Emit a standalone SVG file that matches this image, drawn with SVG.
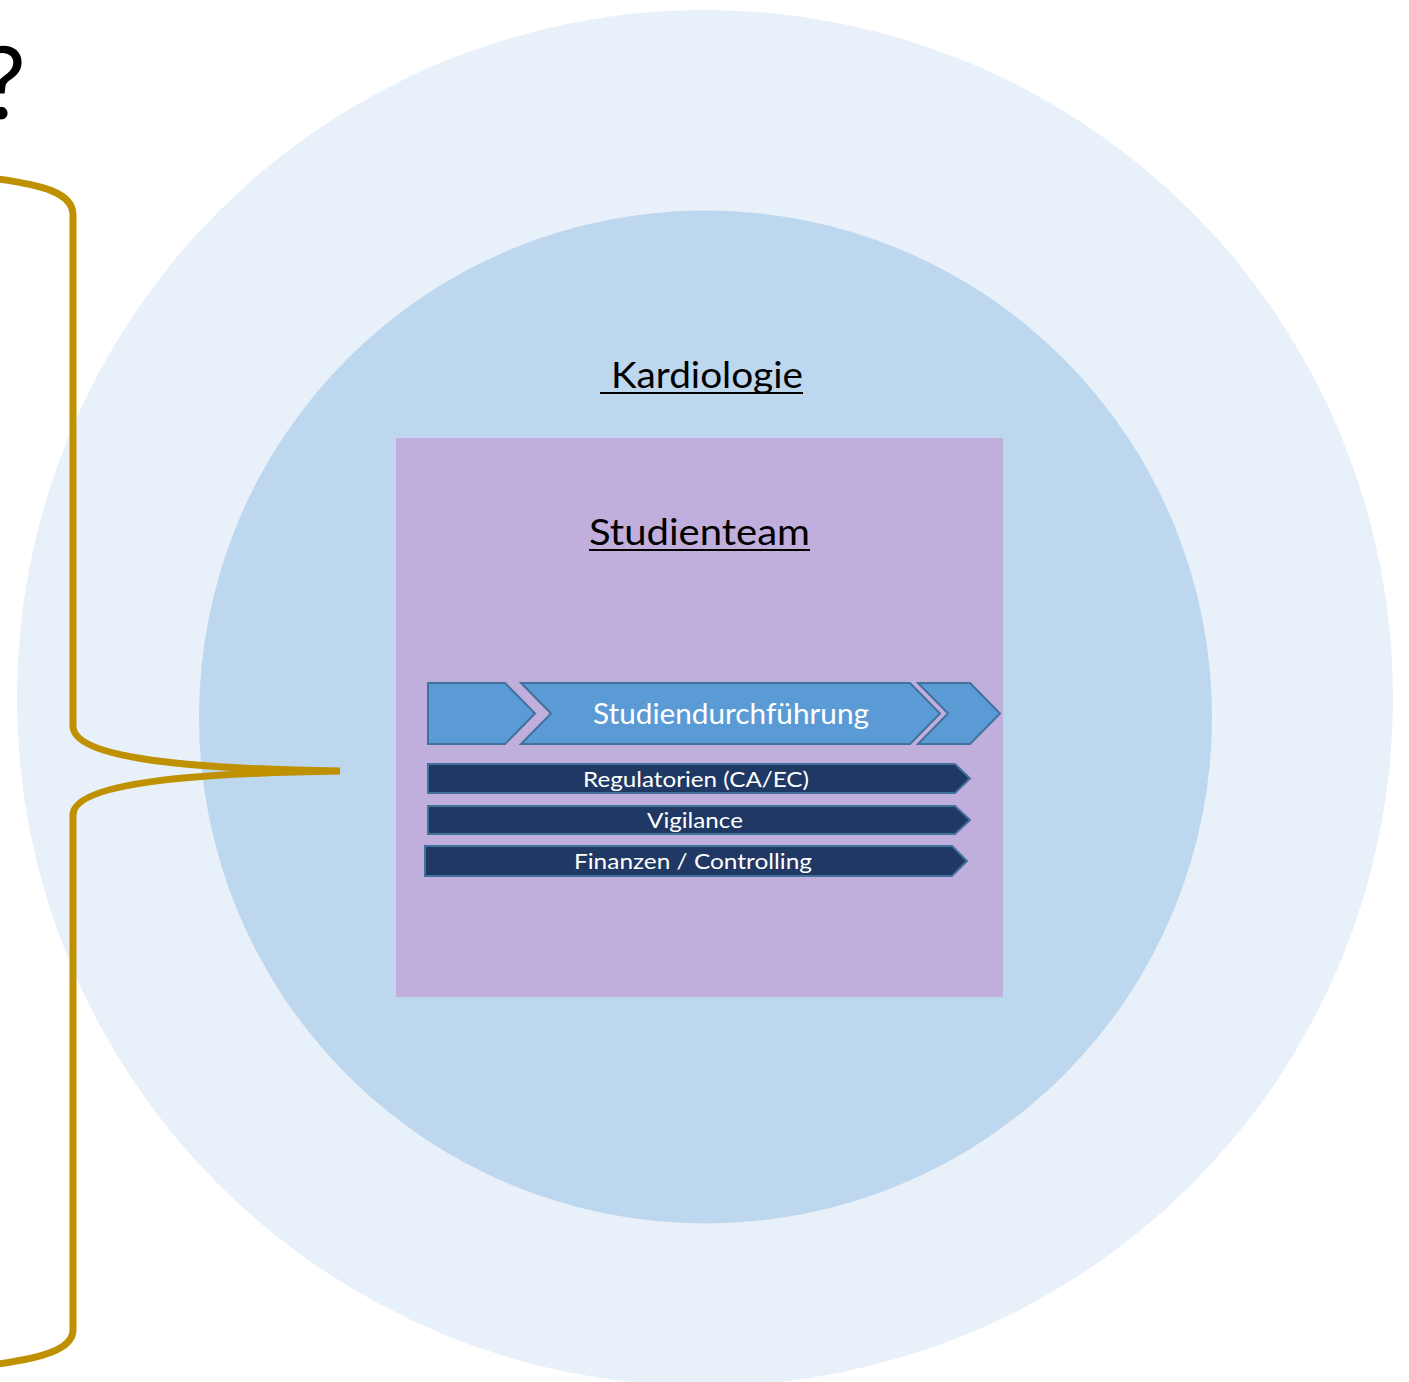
<svg xmlns="http://www.w3.org/2000/svg" width="1409" height="1382" viewBox="0 0 1409 1382">
  <defs>
    <style>
      .lbl { font-family: "Lato", "Open Sans", "Liberation Sans", sans-serif; }
      .title { font-size: 36px; fill: #000; text-anchor: middle; }
      .step { fill: #5b9bd5; stroke: #41719c; stroke-width: 2; stroke-linejoin: miter; }
      .bar { fill: #203864; stroke: #41719c; stroke-width: 2; }
      .wt { fill: #ffffff; text-anchor: middle; }
      .ul { stroke: #000; stroke-width: 2.2; }
      .brace { fill: none; stroke: #bf9000; stroke-width: 7; stroke-linecap: butt; stroke-linejoin: round; }
    </style>
  </defs>

  <rect width="1409" height="1382" fill="#ffffff"/>

  <!-- environment rings -->
  <g id="outer-ring">
    <circle cx="705" cy="698" r="688" fill="#e8f0f9"/>
  </g>
  <g id="kardiologie">
    <circle cx="705.5" cy="717" r="506.5" fill="#bdd7ee"/>
    <text class="lbl title" x="707" y="388" textLength="192" lengthAdjust="spacingAndGlyphs"> Kardiologie</text>
    <line class="ul" x1="600" y1="393" x2="803" y2="393"/>
  </g>

  <!-- study team box -->
  <g id="studienteam">
    <rect x="396" y="438" width="607" height="559" fill="#c0aedd"/>
    <text class="lbl title" x="699.5" y="545" font-size="38" textLength="221" lengthAdjust="spacingAndGlyphs">Studienteam</text>
    <line class="ul" x1="589" y1="550" x2="810" y2="550"/>
  </g>

  <!-- process chevrons -->
  <g id="step-start">
    <polygon class="step" points="428,683 505,683 535,713.5 505,744 428,744"/>
  </g>
  <g id="studiendurchfuehrung">
    <polygon class="step" points="521,683 910,683 940,713.5 910,744 521,744 551,713.5"/>
    <text class="lbl wt" x="731" y="724" font-size="28" textLength="276" lengthAdjust="spacingAndGlyphs">Studiendurchführung</text>
  </g>
  <g id="step-end">
    <polygon class="step" points="918,683 970,683 1000,713.5 970,744 918,744 948,713.5"/>
  </g>

  <!-- supporting streams -->
  <g id="regulatorien">
    <polygon class="bar" points="428,764 955,764 970,778.5 955,793 428,793"/>
    <text class="lbl wt" x="696" y="787" font-size="22" textLength="226" lengthAdjust="spacingAndGlyphs">Regulatorien (CA/EC)</text>
  </g>
  <g id="vigilance">
    <polygon class="bar" points="428,806 955,806 970,820 955,834 428,834"/>
    <text class="lbl wt" x="695" y="828" font-size="22" textLength="96" lengthAdjust="spacingAndGlyphs">Vigilance</text>
  </g>
  <g id="finanzen">
    <polygon class="bar" points="425,846 952,846 967,861 952,876 425,876"/>
    <text class="lbl wt" x="693" y="869" font-size="22" textLength="238" lengthAdjust="spacingAndGlyphs">Finanzen / Controlling</text>
  </g>

  <!-- question heading -->
  <g id="frage">
    <text class="lbl" x="26" y="119" font-size="100" text-anchor="end" fill="#000">?</text>
  </g>

  <!-- curly brace pointing at the team -->
  <g id="connectors">
    <path class="brace" d="M -2,179 C 40,185 73,192 73,215 L 73,726 C 73,760 200,769 340,771 M 340,771 C 200,773 73,782 73,815 L 73,1330 C 73,1350 40,1358 -2,1364"/>
  </g>
</svg>
